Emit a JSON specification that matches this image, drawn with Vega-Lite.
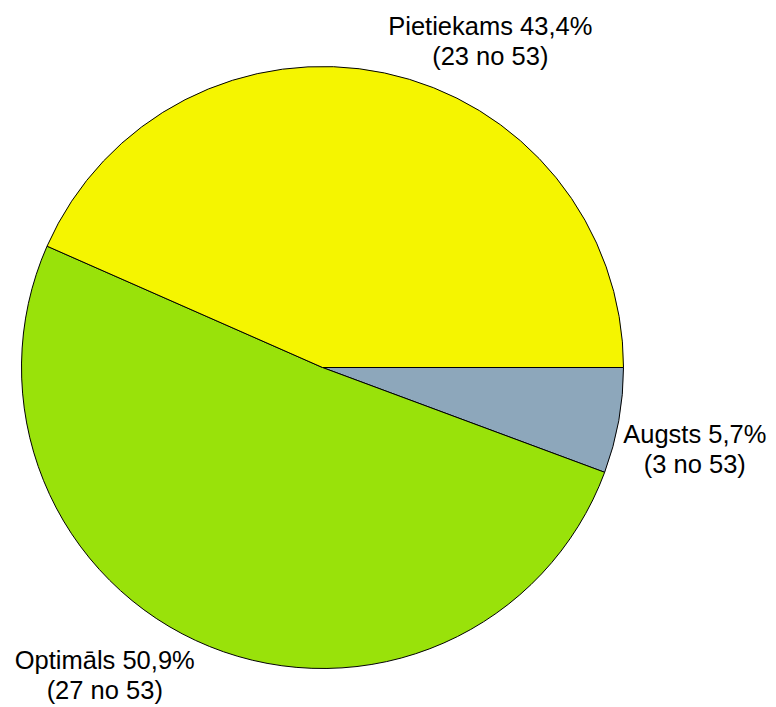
{
  "$schema": "https://vega.github.io/schema/vega-lite/v6.json",
  "width": 645,
  "height": 659,
  "autosize": {"type": "none"},
  "padding": {"top": 38, "left": 0, "right": 131, "bottom": 10},
  "background": "white",
  "config": {"view": {"stroke": null}},
  "data": {
    "values": [
      {"category": "Augsts", "count": 3, "order": 1, "label": "Augsts 5,7%\n(3 no 53)"},
      {"category": "Optimāls", "count": 27, "order": 2, "label": "Optimāls 50,9%\n(27 no 53)"},
      {"category": "Pietiekams", "count": 23, "order": 3, "label": "Pietiekams 43,4%\n(23 no 53)"}
    ]
  },
  "encoding": {
    "theta": {"field": "count", "type": "quantitative", "stack": true, "scale": {"range": [1.5707963, 7.8539816]}},
    "order": {"field": "order", "type": "quantitative"}
  },
  "layer": [
    {
      "mark": {"type": "arc", "outerRadius": 301, "stroke": "black", "strokeWidth": 1},
      "encoding": {
        "color": {
          "field": "category",
          "type": "nominal",
          "scale": {"domain": ["Augsts", "Optimāls", "Pietiekams"], "range": ["#8DA7BB", "#99E20A", "#F5F500"]},
          "legend": null
        }
      }
    },
    {
      "mark": {"type": "text", "radius": 300, "dx": 77, "dy": 14, "fontSize": 25.5, "lineHeight": 30, "font": "Liberation Sans", "lineBreak": "\n", "align": "center", "baseline": "middle", "color": "black"},
      "encoding": {"text": {"condition": {"test": "datum.category === 'Augsts'", "field": "label"}, "value": ""}}
    },
    {
      "mark": {"type": "text", "radius": 300, "dx": -105, "dy": 15, "fontSize": 25.5, "lineHeight": 30, "font": "Liberation Sans", "lineBreak": "\n", "align": "center", "baseline": "middle", "color": "black"},
      "encoding": {"text": {"condition": {"test": "datum.category === 'Optimāls'", "field": "label"}, "value": ""}}
    },
    {
      "mark": {"type": "text", "radius": 300, "dx": 106, "dy": -47, "fontSize": 25.5, "lineHeight": 30, "font": "Liberation Sans", "lineBreak": "\n", "align": "center", "baseline": "middle", "color": "black"},
      "encoding": {"text": {"condition": {"test": "datum.category === 'Pietiekams'", "field": "label"}, "value": ""}}
    }
  ]
}
